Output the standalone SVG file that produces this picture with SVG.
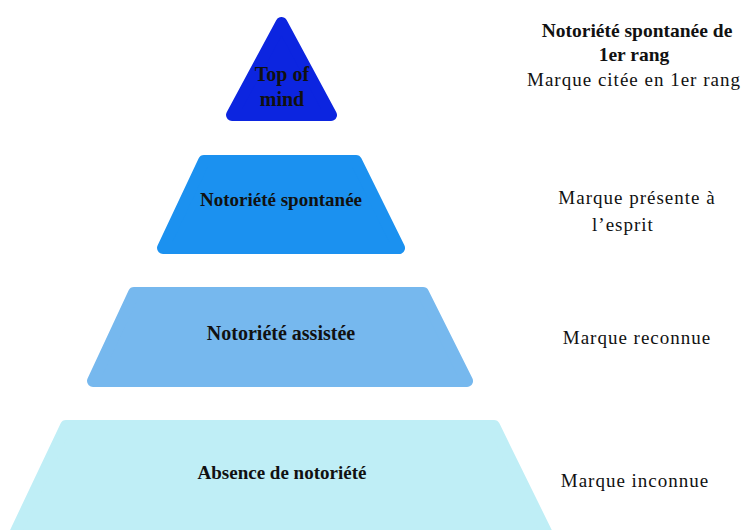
<svg xmlns="http://www.w3.org/2000/svg" width="744" height="530" viewBox="0 0 744 530">
  <style>
    .tier { stroke-width: 12; stroke-linejoin: round; }
    .lbl { font-family: "Liberation Serif", "Times New Roman", serif; font-weight: bold; font-size: 19px; fill: #111; text-anchor: middle; }
    .note { font-family: "Liberation Serif", "Times New Roman", serif; font-size: 19px; fill: #111; text-anchor: middle; letter-spacing: 1px; }
    .noteb { font-family: "Liberation Serif", "Times New Roman", serif; font-weight: bold; font-size: 19.5px; fill: #111; text-anchor: middle; }
  </style>
  <rect width="744" height="530" fill="#ffffff"/>

  <!-- pyramid tiers, top to bottom -->
  <g id="top-of-mind">
    <polygon class="tier" points="281.5,23 331,115 232,115" fill="#0c25e0" stroke="#0c25e0"/>
    <text class="lbl" x="282" y="81" style="font-size:20px">Top of</text>
    <text class="lbl" x="282" y="106" style="font-size:20px">mind</text>
  </g>
  <g id="notoriete-spontanee">
    <polygon class="tier" points="204,161 356,161 399,248 163,248" fill="#1b91f0" stroke="#1b91f0"/>
    <text class="lbl" x="281" y="206">Notoriété spontanée</text>
  </g>
  <g id="notoriete-assistee">
    <polygon class="tier" points="134,293 423,293 467,381 93,381" fill="#76b8ee" stroke="#76b8ee"/>
    <text class="lbl" x="281" y="340" style="font-size:20px">Notoriété assistée</text>
  </g>
  <g id="absence-notoriete">
    <polygon class="tier" points="66,426 494,426 550,540 12,540" fill="#bfeef6" stroke="#bfeef6"/>
    <text class="lbl" x="282" y="479">Absence de notoriété</text>
  </g>

  <!-- descriptions on the right -->
  <g id="desc-top">
    <text class="noteb" x="637" y="37">Notoriété spontanée de</text>
    <text class="noteb" x="634" y="61">1er rang</text>
    <text class="note" x="634" y="86">Marque citée en 1er rang</text>
  </g>
  <g id="desc-spontanee">
    <text class="note" x="637" y="204">Marque présente à</text>
    <text class="note" x="623" y="231">l’esprit</text>
  </g>
  <g id="desc-assistee">
    <text class="note" x="637" y="344">Marque reconnue</text>
  </g>
  <g id="desc-absence">
    <text class="note" x="635" y="487">Marque inconnue</text>
  </g>
  <g id="connectors"/>
</svg>
